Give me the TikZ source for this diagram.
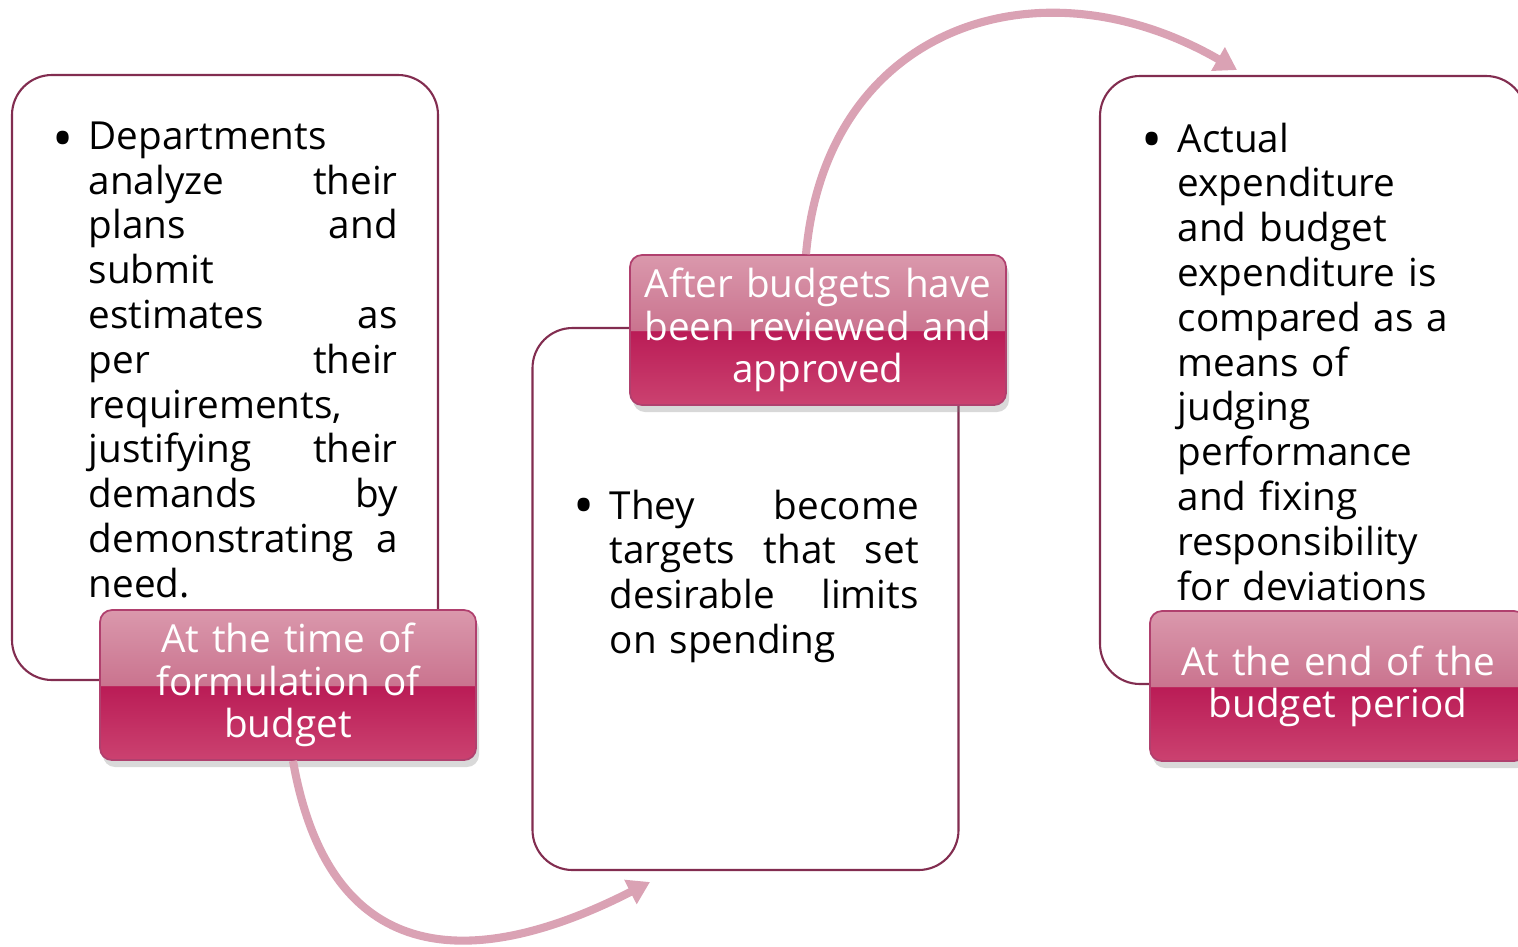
\documentclass[tikz,border=0pt]{standalone}
\usepackage{fontspec}
\setmainfont{Open Sans}
\usetikzlibrary{arrows.meta,shadows}

\definecolor{boxline}{RGB}{130,45,80}
\definecolor{tagtop}{RGB}{218,152,172}
\definecolor{tagmid}{RGB}{202,116,143}
\definecolor{tagdeep}{RGB}{186,28,86}
\definecolor{tagbot}{RGB}{203,66,112}
\definecolor{tagedge}{RGB}{176,64,110}
\definecolor{flowpink}{RGB}{218,162,180}

\pgfdeclareverticalshading{glossy}{100bp}{color(0bp)=(tagbot); color(25bp)=(tagbot); color(49.6bp)=(tagdeep); color(50bp)=(tagmid); color(75bp)=(tagtop); color(100bp)=(tagtop)}

\newcommand{\bodyfont}{\fontsize{11}{12.75}\selectfont}
\newcommand{\tagfont}{\fontsize{11}{12}\selectfont}

\begin{document}
\begin{tikzpicture}[x=0.1mm, y=0.1mm,
  stagebox/.style={draw=boxline, line width=0.6pt, fill=white, rounded corners=4mm, minimum width=4.26cm},
  tagbox/.style={draw=tagedge, line width=0.5pt, shading=glossy, rounded corners=1.2mm,
    minimum width=3.76cm, minimum height=1.5cm, text width=3.6cm, inner xsep=0.5mm, align=center,
    text=white, font=\tagfont, drop shadow={opacity=0.3, shadow xshift=0.3mm, shadow yshift=-0.7mm}},
  bodytext/.style={text width=3.09cm, align=left, font=\bodyfont, inner sep=0pt, anchor=north west},
  bulletdot/.style={font=\fontsize{16}{16}\selectfont, inner sep=0pt, anchor=base},
  flow/.style={line width=2.3pt, flowpink, -{Triangle[length=2.2mm, width=2.6mm]}}]
\path [use as bounding box] (0,-946) rectangle (1518,0);
\clip (0,-946) rectangle (1518,0);

\node [stagebox, minimum height=6.05cm] (b1) at (225,-377.5) {};
\node [stagebox, minimum height=5.42cm] (b2) at (745.5,-599) {};
\node [stagebox, minimum height=6.08cm] (b3) at (1313,-380) {};

\node [bulletdot] (d1) at (63,-158) {\textbullet};
\node [bodytext] (t1) at (88,-121) {Departments\\
analyze\hfill their\\
plans\hfill and\\
submit\\
estimates\hfill as\\
per\hfill their\\
requirements,\\
justifying\hfill their\\
demands\hfill by\\
demonstrating\hfill a\\
need.};

\node [bulletdot] (d2) at (584,-525) {\textbullet};
\node [bodytext] (t2) at (609,-489) {They\hfill become\\
targets\hfill that\hfill set\\
desirable\hfill limits\\
on spending};

\node [bulletdot] (d3) at (1152,-159) {\textbullet};
\node [bodytext, text width=3.2cm] (t3) at (1177,-122) {Actual\\
expenditure\\
and budget\\
expenditure is\\
compared as a\\
means of\\
judging\\
performance\\
and fixing\\
responsibility\\
for deviations};

\node [tagbox] (l1) at (288,-685) {At the time of\\ formulation of\\ budget};
\node [tagbox] (l2) at (818,-330) {After budgets have\\ been reviewed and\\ approved};
\node [tagbox] (l3) at (1338,-686) {At the end of the\\ budget period};

\coordinate (e1) at (650,-882);
\coordinate (e2) at (1237,-70);
\draw [flow] ([xshift=0.5mm]l1.south) to [out=-80, in=207, looseness=1.4] (e1);
\draw [flow] ([xshift=-1.2mm]l2.north) to [out=85, in=150, looseness=1.25] (e2);
\end{tikzpicture}
\end{document}
